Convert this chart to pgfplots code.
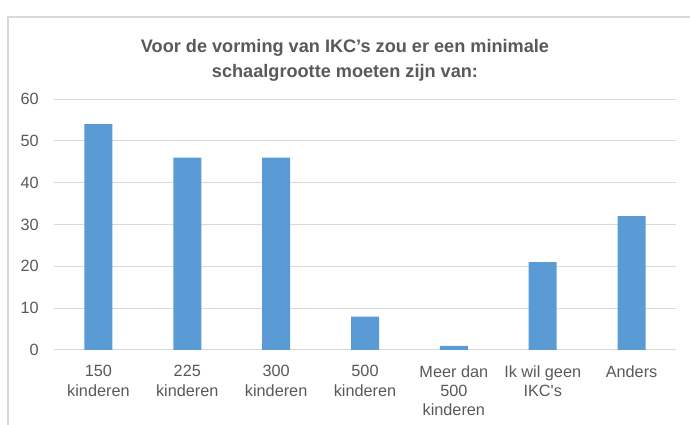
\documentclass[border=0pt]{standalone}
\usepackage{pgfplots}
\pgfplotsset{compat=1.18}
\usepackage{fontspec}
\setmainfont{Liberation Sans}
\newfontfamily\plainfont{Liberation Sans}
\definecolor{txt}{HTML}{595959}
\definecolor{grd}{HTML}{D9D9D9}
\definecolor{bar}{HTML}{5B9BD5}
\begin{document}
\begin{tikzpicture}[x=0.75pt,y=0.75pt]
\useasboundingbox (0,0) rectangle (690,425);
\draw[grd,line width=1.5pt] (7.5,0) -- (7.5,408) -- (690,408);
\node[anchor=base,font=\bfseries\fontsize{13.6}{16}\selectfont,text=txt] at (345,372) {Voor de vorming van IKC’s zou er een minimale};
\node[anchor=base,font=\bfseries\fontsize{13.6}{16}\selectfont,text=txt] at (345,347) {schaalgrootte moeten zijn van:};
\coordinate (A) at (54,75);
\begin{axis}[
  at={(A)}, anchor=south west,
  scale only axis,
  width=466.5pt, height=188.25pt,
  xmin=-0.5, xmax=6.5, ymin=0, ymax=60,
  ytick={0,10,...,60},
  xtick={0,...,6},
  xticklabels={{150\\kinderen},{225\\kinderen},{300\\kinderen},{500\\kinderen},{Meer dan\\500\\kinderen},{Ik wil geen\\IKC{\plainfont '}s},{Anders}},
  /pgf/number format/assume math mode=true,
  axis line style={draw=none},
  major tick length=0pt,
  ymajorgrids,
  major grid style={color=grd,line width=0.75pt},
  tick label style={font=\fontsize{12.2}{14.5}\selectfont,text=txt},
  xticklabel style={align=center,yshift=-8pt},
  yticklabel style={xshift=-8pt},
  clip=false,
]
\addplot[ybar,bar width=21pt,draw=none,fill=bar] coordinates {(0,54) (1,46) (2,46) (3,8) (4,1) (5,21) (6,32)};
\end{axis}
\end{tikzpicture}
\end{document}
